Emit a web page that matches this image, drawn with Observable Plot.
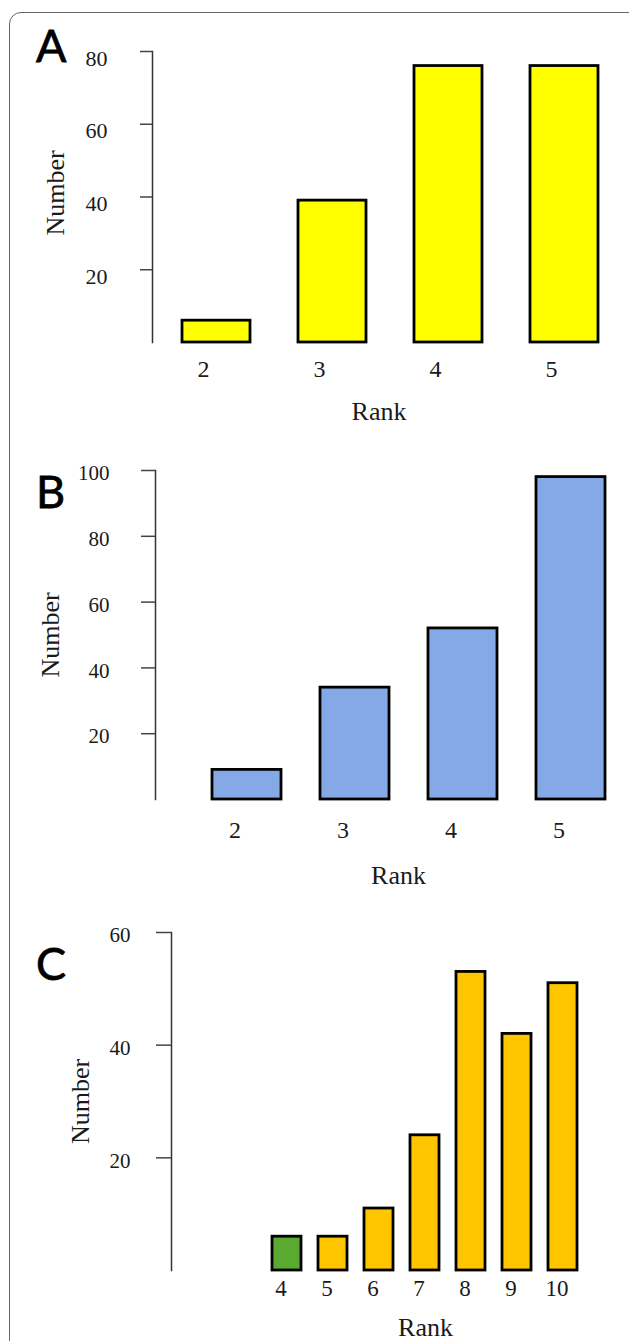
<!DOCTYPE html>
<html>
<head>
<meta charset="utf-8">
<script src="https://cdn.jsdelivr.net/npm/d3@7"></script>
<script src="https://cdn.jsdelivr.net/npm/@observablehq/plot@0.6"></script>
<style>
  html, body { margin: 0; padding: 0; background: #fff; }
  #page { position: relative; width: 629px; height: 1341px; overflow: hidden; background: #fff; }
  #border { position: absolute; left: 9px; top: 12px; width: 660px; height: 1420px;
            border: 1.5px solid #666; border-radius: 12px; box-sizing: border-box; }
  .panel { position: absolute; left: 0; }
  .letter { position: absolute; font-family: Lato, "Open Sans", sans-serif; font-size: 45px;
            line-height: 1; color: #000; -webkit-text-stroke: 0.8px #000; }
</style>
</head>
<body>
<div id="page">
  <div id="border"></div>
</div>
<script>
// ---- data ----
const ranksA = [2, 3, 4, 5];
const countsA = [6, 39, 76, 76];
const ticksA = [20, 40, 60, 80];

const ranksB = [2, 3, 4, 5];
const countsB = [9, 34, 52, 98];
const ticksB = [20, 40, 60, 80, 100];

const ranksC = [4, 5, 6, 7, 8, 9, 10];
const countsC = [6, 6, 11, 24, 53, 42, 51];
const groupsC = ["g", "o", "o", "o", "o", "o", "o"];
const ticksC = [20, 40, 60];

const yLabel = "Number";
const xLabel = "Rank";
const panelLetters = ["A", "B", "C"];

function makePanel(cfg) {
  const data = cfg.ranks.map((r, i) => ({rank: r, count: cfg.counts[i], group: cfg.groups ? cfg.groups[i] : "a"}));
  return Plot.plot({
    width: 629,
    height: cfg.height,
    marginLeft: cfg.marginLeft,
    marginRight: 0,
    marginTop: cfg.marginTop,
    marginBottom: cfg.marginBottom,
    style: {fontFamily: "'Liberation Serif', 'Times New Roman', serif", background: "transparent", overflow: "visible", color: "#1a1a1a"},
    x: {type: "band", domain: cfg.ranks, paddingInner: cfg.pi, paddingOuter: cfg.po, align: cfg.align, axis: null},
    y: {domain: [0, cfg.ymax], axis: null},
    color: {domain: cfg.colorDomain, range: cfg.colorRange},
    marks: [
      Plot.frame({anchor: "left", stroke: "#333", strokeWidth: 1.5}),
      Plot.barY(data, {x: "rank", y: "count", fill: "group", stroke: "#000", strokeWidth: 2.8}),
      Plot.axisY(cfg.ticks, {tickSize: cfg.tickSize, tickFormat: () => "", stroke: "#444", strokeWidth: 1.5, label: null}),
      Plot.axisY(cfg.ticks, {tickSize: 0, tickPadding: cfg.tickSize + cfg.tickPadding, fontSize: cfg.yFont, dy: cfg.tickDy, fill: "#1a1a1a", label: null}),
      Plot.axisX({tickSize: 0, tickPadding: cfg.xPad, dx: cfg.xDx, fontSize: cfg.xFont, fill: "#1a1a1a", label: null}),
      Plot.text([yLabel], {frameAnchor: "left", textAnchor: "middle", lineAnchor: "middle", rotate: -90, dx: cfg.yLabDx, dy: cfg.yLabDy, fontSize: 26, fill: "#1a1a1a"}),
      Plot.text([xLabel], {frameAnchor: "bottom", textAnchor: "middle", lineAnchor: "middle", dx: cfg.xLabDx, dy: cfg.xLabDy, fontSize: 26, fill: "#1a1a1a"})
    ]
  });
}

const page = document.getElementById("page");
const panels = [
  {top: 0, height: 430, marginLeft: 152, marginTop: 51, marginBottom: 88,
   ranks: ranksA, counts: countsA, ticks: ticksA, ymax: 80,
   pi: 0.41, po: 0.25, align: 0.5,
   colorDomain: ["a"], colorRange: ["#ffff00"],
   tickSize: 12, tickPadding: 33, yFont: 22, xFont: 24, tickDy: 7,
   xPad: 17, xDx: -13, yLabDx: -97, yLabDy: -4, xLabDx: -12, xLabDy: 69,
   letterTop: 23},
  {top: 430, height: 450, marginLeft: 155, marginTop: 40, marginBottom: 81,
   ranks: ranksB, counts: countsB, ticks: ticksB, ymax: 100,
   pi: 0.36, po: 0.358, align: 0.705,
   colorDomain: ["a"], colorRange: ["#84a9e6"],
   tickSize: 14, tickPadding: 32, yFont: 21, xFont: 24, tickDy: 3,
   xPad: 21, xDx: -12, yLabDx: -105, yLabDy: 0, xLabDx: 6, xLabDy: 76,
   letterTop: 469},
  {top: 880, height: 461, marginLeft: 171, marginTop: 52, marginBottom: 71,
   ranks: ranksC, counts: countsC, groups: groupsC, ticks: ticksC, ymax: 60,
   pi: 0.37, po: 1.653, align: 0.663,
   colorDomain: ["g", "o"], colorRange: ["#5aaa32", "#ffc600"],
   tickSize: 15, tickPadding: 26, yFont: 21, xFont: 23, tickDy: 3,
   xPad: 9, xDx: -6, yLabDx: -91, yLabDy: 0, xLabDx: 25, xLabDy: 57,
   letterTop: 941}
];

panels.forEach((cfg, i) => {
  const svg = makePanel(cfg);
  svg.classList.add("panel");
  svg.style.top = cfg.top + "px";
  page.appendChild(svg);
  const letter = document.createElement("div");
  letter.className = "letter";
  letter.textContent = panelLetters[i];
  letter.style.left = "36px";
  letter.style.top = cfg.letterTop + "px";
  page.appendChild(letter);
});
</script>
</body>
</html>
